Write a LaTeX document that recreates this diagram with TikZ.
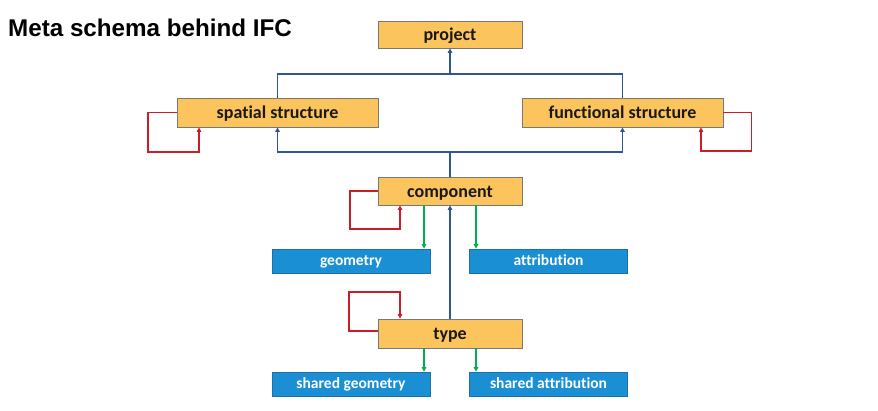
\documentclass[tikz,border=0pt]{standalone}
\usepackage{fontspec}
\setmainfont{Carlito}[RawFeature=-liga]
\newfontfamily\titlefont{Liberation Sans}
\usetikzlibrary{arrows.meta}
\definecolor{boxorange}{RGB}{252,196,92}
\definecolor{boxgray}{RGB}{120,120,120}
\definecolor{boxblue}{RGB}{27,143,211}
\definecolor{boxblueedge}{RGB}{30,110,170}
\definecolor{linkblue}{RGB}{47,85,151}
\definecolor{linkred}{RGB}{200,30,40}
\definecolor{linkgreen}{RGB}{0,176,80}
\tikzset{
  obox/.style={draw=boxgray, line width=0.8pt, fill=boxorange, inner sep=0pt,
    text height=14pt, text depth=2pt,
    font=\fontsize{18}{21}\selectfont\bfseries, text=black!90},
  bbox/.style={draw=boxblueedge, line width=0.6pt, fill=boxblue, inner sep=0pt,
    minimum width=158pt, minimum height=24pt, text height=11pt, text depth=3pt,
    font=\fontsize{15.5}{18}\selectfont\bfseries, text=white},
  tip/.style={-{Triangle[length=4.5pt,width=4.5pt]}},
  bluelink/.style={draw=linkblue, line width=1.8pt},
  redlink/.style={draw=linkred, line width=1.8pt, tip},
  greenlink/.style={draw=linkgreen, line width=1.6pt, tip},
}
\begin{document}
\begin{tikzpicture}[x=1pt,y=-1pt]
\useasboundingbox (0,0) rectangle (878,410);
\node[anchor=west, inner sep=0pt, font=\titlefont\fontsize{24.2}{27}\selectfont\bfseries] (title) at (8,28) {Meta schema behind IFC};

\node[obox, minimum width=144pt, minimum height=27pt] (project) at (450,34.5) {project};
\node[obox, minimum width=201pt, minimum height=29pt] (spatial) at (277.5,112.5) {spatial structure};
\node[obox, minimum width=201pt, minimum height=29pt] (functional) at (622.5,112.5) {functional structure};
\node[obox, minimum width=144pt, minimum height=28pt] (component) at (450,191) {component};
\node[obox, minimum width=144pt, minimum height=29pt] (type) at (450,333.5) {type};

\node[bbox] (geometry) at (351,261) {geometry};
\node[bbox] (attribution) at (548.5,261) {attribution};
\node[bbox] (sgeometry) at (351,384) {shared geometry};
\node[bbox] (sattribution) at (548.5,384) {shared attribution};

% blue connectors
\coordinate (t1) at (450,74);
\coordinate (t2) at (450,152);
\draw[bluelink] (spatial.north) |- (t1) -| (functional.north);
\draw[bluelink, tip] (t1) -- (project.south);
\draw[bluelink] (component.north) -- (t2);
\draw[bluelink, tip] (t2) -| (spatial.south);
\draw[bluelink, tip] (t2) -| (functional.south);
\draw[bluelink, tip] (type.north) -- (component.south);

% red self loops
\draw[redlink] (spatial.west) -| ++(-29,39.5) -| ([xshift=-78.5]spatial.south);
\draw[redlink] (functional.east) -| ++(28,38.5) -| ([xshift=78.5]functional.south);
\draw[redlink] (component.west) -| ++(-28,38) -| ([xshift=-50]component.south);
\draw[redlink] ([yshift=2.5]type.west) -| ++(-29,-39) -| ([xshift=-50]type.north);

% green connectors
\draw[greenlink] ([xshift=-26]component.south) -- ([xshift=-26]component.south |- geometry.north);
\draw[greenlink] ([xshift=26]component.south) -- ([xshift=26]component.south |- attribution.north);
\draw[greenlink] ([xshift=-26]type.south) -- ([xshift=-26]type.south |- sgeometry.north);
\draw[greenlink] ([xshift=26]type.south) -- ([xshift=26]type.south |- sattribution.north);
\end{tikzpicture}
\end{document}
